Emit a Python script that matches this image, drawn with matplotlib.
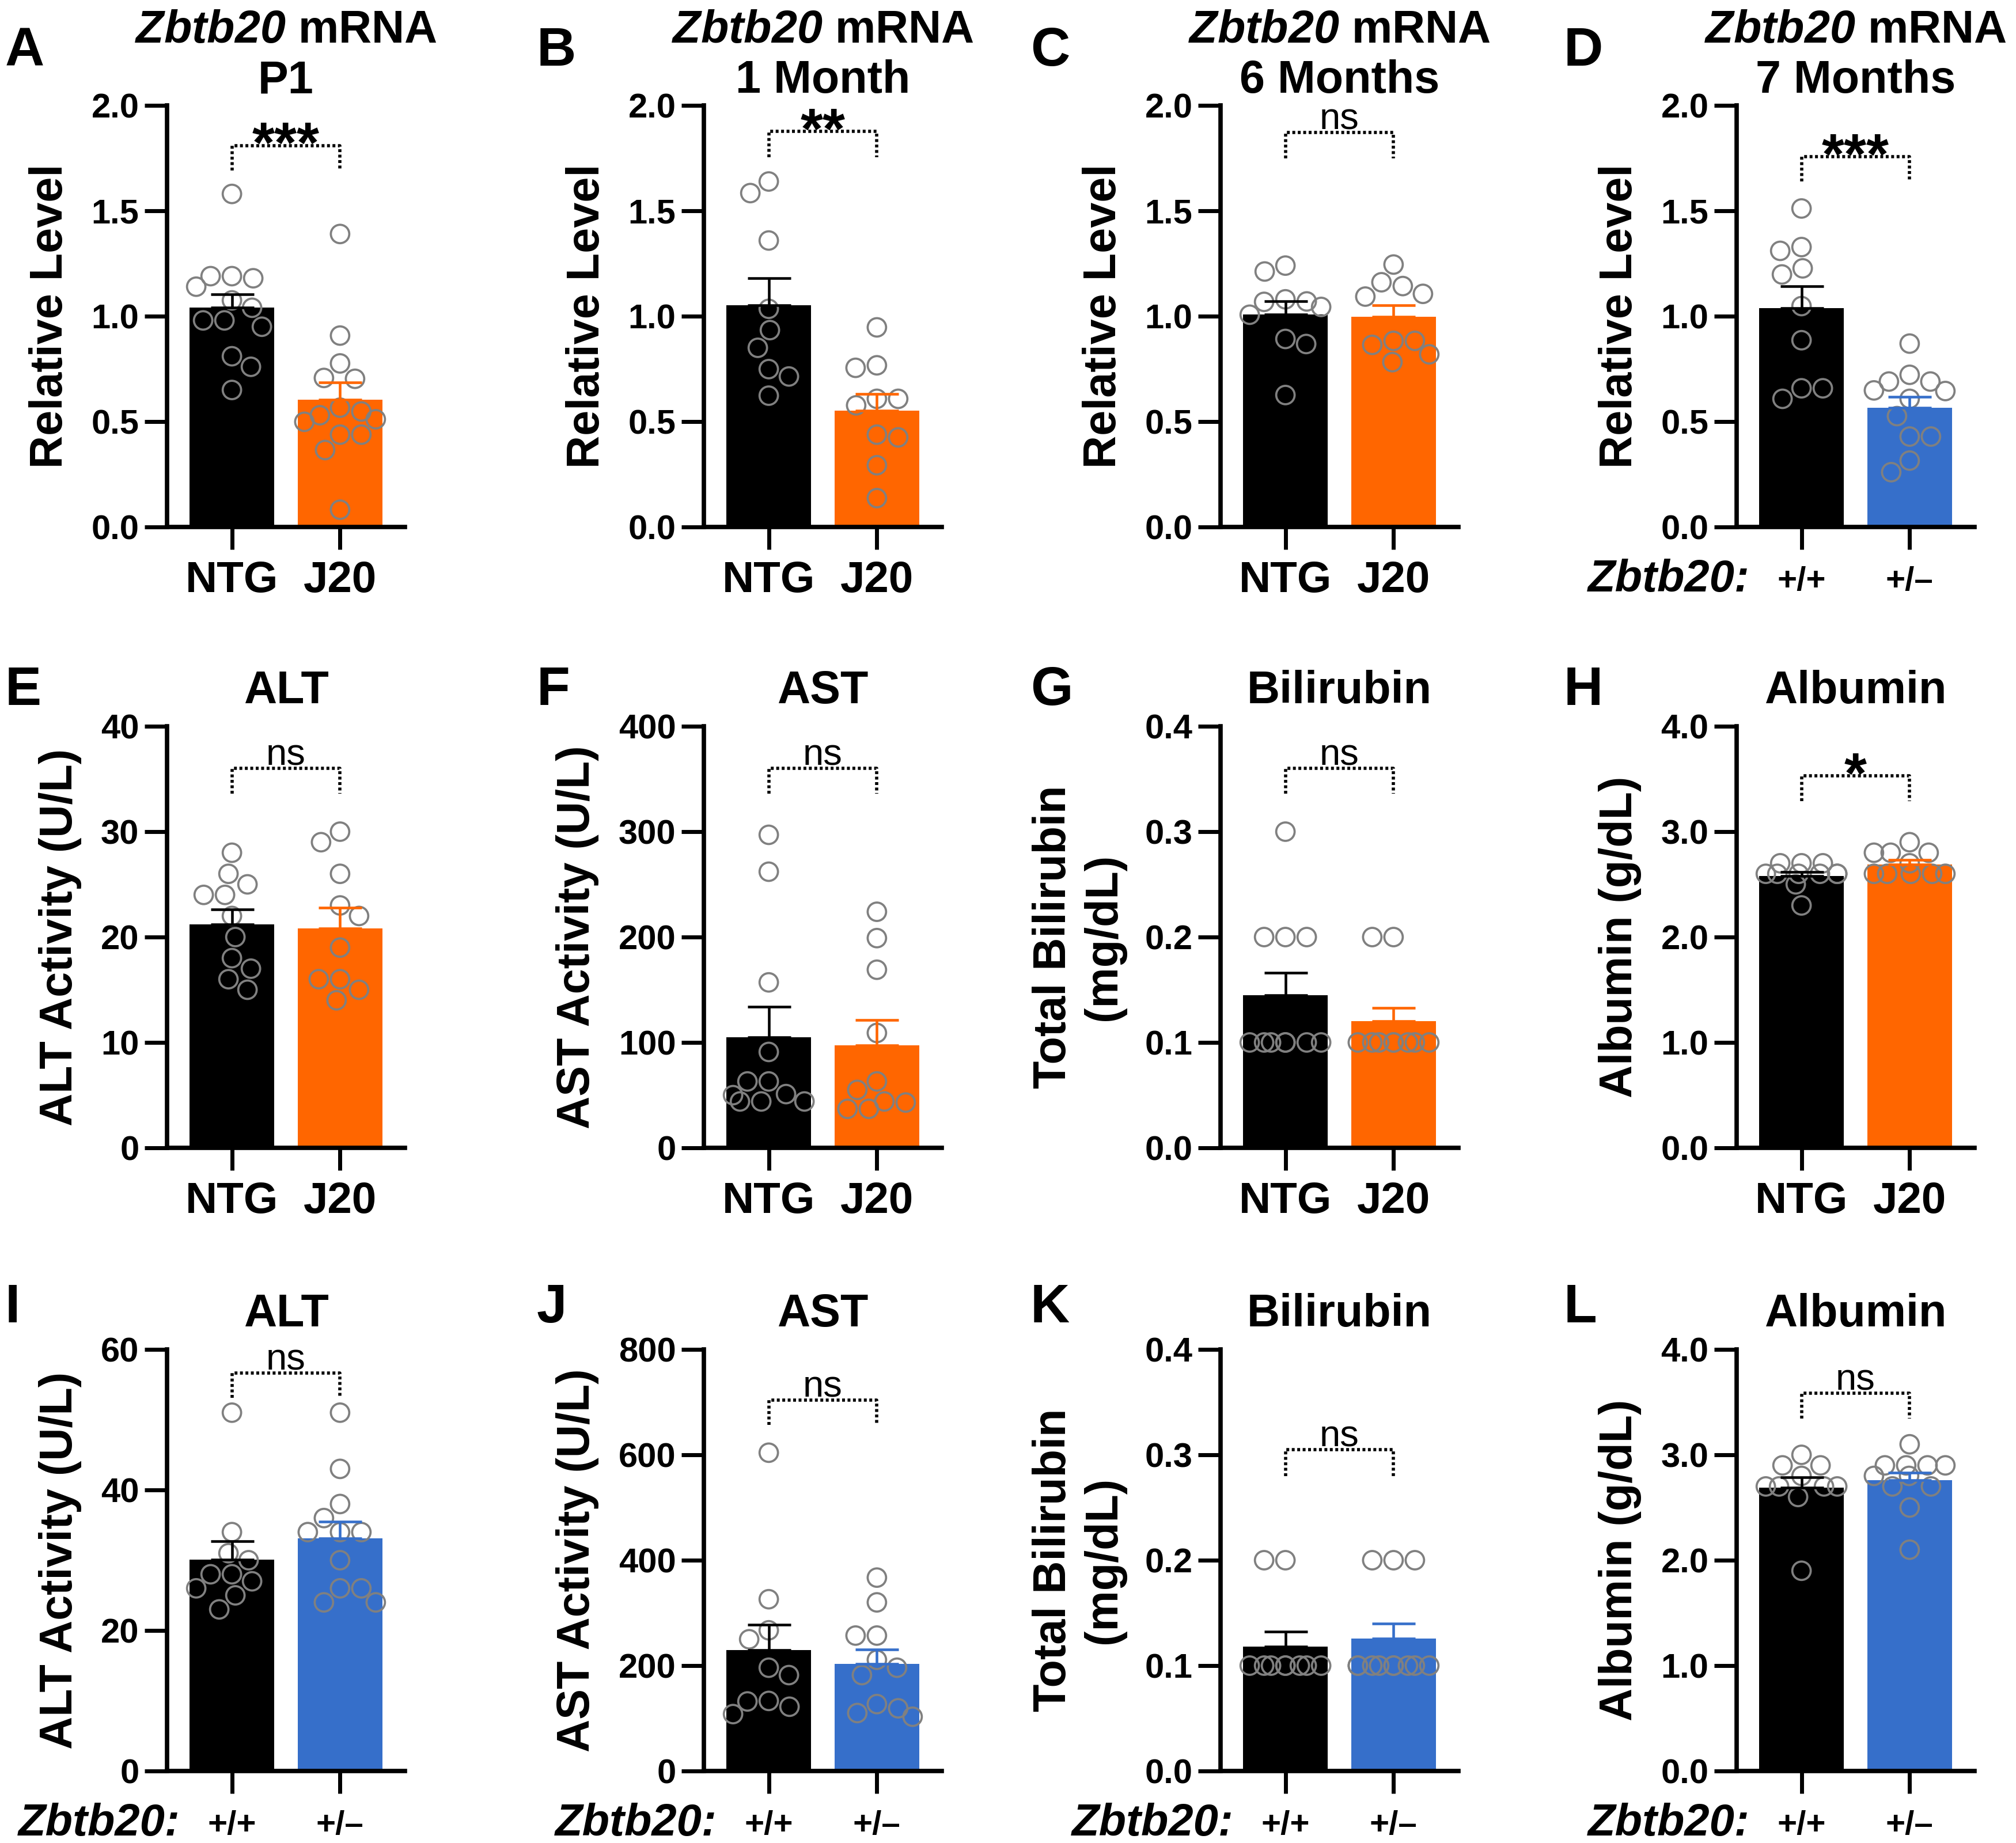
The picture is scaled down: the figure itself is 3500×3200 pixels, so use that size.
import numpy as np
import matplotlib
matplotlib.use('Agg')
import matplotlib.pyplot as plt

plt.rcParams['font.family'] = 'Liberation Sans'
plt.rcParams['font.weight'] = 'bold'
plt.rcParams['axes.labelweight'] = 'bold'
plt.rcParams['mathtext.fontset'] = 'custom'
plt.rcParams['mathtext.it'] = 'Liberation Sans:italic:bold'
plt.rcParams['mathtext.rm'] = 'Liberation Sans:italic:bold'
plt.rcParams['mathtext.bf'] = 'Liberation Sans:bold'

BLACK = '#000000'
ORANGE = '#FF6600'
BLUE = '#366FCA'
DOT = '#808080'

# ---- data ----
# A: Zbtb20 mRNA, P1
a_ntg = [1.58, 1.19, 1.19, 1.18, 1.14, 1.075, 1.04, 0.98, 0.98, 0.95, 0.81, 0.76, 0.65]
a_j20 = [1.39, 0.908, 0.776, 0.707, 0.703, 0.566, 0.548, 0.53, 0.511, 0.499, 0.438, 0.438, 0.365, 0.082]
a_bar = [1.04, 0.603]
a_sem = [0.065, 0.082]
a_sig = (1.81, 1.69, '***')

# B: 1 month
b_ntg = [1.639, 1.584, 1.359, 1.035, 0.934, 0.85, 0.749, 0.714, 0.623]
b_j20 = [0.947, 0.767, 0.755, 0.608, 0.608, 0.577, 0.425, 0.438, 0.293, 0.137]
b_bar = [1.051, 0.553]
b_sem = [0.128, 0.077]
b_sig = (1.877, 1.755, '**')

# C: 6 months
c_ntg = [1.24, 1.212, 1.08, 1.07, 1.068, 1.044, 1.007, 0.892, 0.868, 0.626]
c_j20 = [1.245, 1.161, 1.143, 1.106, 1.093, 0.883, 0.883, 0.864, 0.819, 0.782]
c_bar = [1.007, 0.996]
c_sem = [0.064, 0.055]
c_sig = (1.872, 1.749, 'ns')

# D: 7 months, Zbtb20 +/+ vs +/-
d_wt = [1.511, 1.328, 1.31, 1.227, 1.198, 1.048, 0.886, 0.658, 0.658, 0.608]
d_het = [0.87, 0.722, 0.69, 0.69, 0.648, 0.645, 0.608, 0.526, 0.429, 0.429, 0.315, 0.26]
d_bar = [1.038, 0.566]
d_sem = [0.105, 0.051]
d_sig = (1.756, 1.64, '***')

# E: ALT (J20)
e_ntg = [28, 26, 25, 24, 24, 22, 20, 18, 17, 16, 15]
e_j20 = [30, 29, 26, 23, 22, 19, 16, 16, 15, 14]
e_bar = [21.2, 20.8]
e_sem = [1.45, 2.0]
e_sig = (36.0, 33.6, 'ns')

# F: AST (J20)
f_ntg = [297, 262, 157, 91, 63, 63, 51, 50, 44, 44, 44]
f_j20 = [224, 199, 169, 109, 63, 55, 44, 43, 37, 37]
f_bar = [105, 97]
f_sem = [29, 24.5]
f_sig = (360, 336, 'ns')

# G: bilirubin (J20)
g_ntg = [0.3, 0.2, 0.2, 0.2, 0.1, 0.1, 0.1, 0.1, 0.1, 0.1, 0.1]
g_j20 = [0.2, 0.2, 0.1, 0.1, 0.1, 0.1, 0.1, 0.1, 0.1, 0.1]
g_bar = [0.145, 0.12]
g_sem = [0.021, 0.013]
g_sig = (0.36, 0.336, 'ns')

# H: albumin (J20)
h_ntg = [2.7, 2.7, 2.7, 2.6, 2.6, 2.6, 2.6, 2.6, 2.6, 2.5, 2.3]
h_j20 = [2.9, 2.8, 2.8, 2.8, 2.7, 2.6, 2.6, 2.6, 2.6, 2.6]
h_bar = [2.58, 2.69]
h_sem = [0.035, 0.04]
h_sig = (3.53, 3.29, '*')

# I: ALT (Zbtb20)
i_wt = [51, 34, 31, 30, 28, 28, 27, 26, 25, 23]
i_het = [51, 43, 38, 36, 34, 34, 34, 30, 26, 26, 24, 24]
i_bar = [30.1, 33.1]
i_sem = [2.6, 2.4]
i_sig = (56.6, 53.1, 'ns')

# J: AST (Zbtb20)
j_wt = [604, 326, 267, 250, 196, 182, 133, 132, 122, 108]
j_het = [367, 320, 257, 257, 211, 196, 182, 127, 119, 110, 103]
j_bar = [229, 203]
j_sem = [49, 27.6]
j_sig = (704, 657, 'ns')

# K: bilirubin (Zbtb20)
k_wt = [0.2, 0.2, 0.1, 0.1, 0.1, 0.1, 0.1, 0.1, 0.1, 0.1]
k_het = [0.2, 0.2, 0.2, 0.1, 0.1, 0.1, 0.1, 0.1, 0.1, 0.1, 0.1, 0.1]
k_bar = [0.118, 0.1255]
k_sem = [0.014, 0.0145]
k_sig = (0.305, 0.28, 'ns')

# L: albumin (Zbtb20)
l_wt = [3.0, 2.9, 2.9, 2.8, 2.7, 2.7, 2.7, 2.7, 2.6, 1.9]
l_het = [3.1, 2.9, 2.9, 2.9, 2.9, 2.8, 2.8, 2.7, 2.7, 2.5, 2.1]
l_bar = [2.69, 2.757]
l_sem = [0.095, 0.075]
l_sig = (3.585, 3.345, 'ns')

ticks_rel = [0.0, 0.5, 1.0, 1.5, 2.0]
ticks_alt_j20 = [0, 10, 20, 30, 40]
ticks_ast_j20 = [0, 100, 200, 300, 400]
ticks_bili = [0.0, 0.1, 0.2, 0.3, 0.4]
ticks_alb = [0.0, 1.0, 2.0, 3.0, 4.0]
ticks_alt_z = [0, 20, 40, 60]
ticks_ast_z = [0, 200, 400, 600, 800]

j20_labels = ['NTG', 'J20']
geno_labels = ['+/+', '+/\u2013']
zb = r'$\mathrm{Zbtb20}$ mRNA'

panels = [
    ('A', zb + '\nP1', 'Relative Level', ticks_rel, '{:.1f}', (a_ntg, a_j20), a_bar, a_sem, a_sig, ORANGE, False),
    ('B', zb + '\n1 Month', 'Relative Level', ticks_rel, '{:.1f}', (b_ntg, b_j20), b_bar, b_sem, b_sig, ORANGE, False),
    ('C', zb + '\n6 Months', 'Relative Level', ticks_rel, '{:.1f}', (c_ntg, c_j20), c_bar, c_sem, c_sig, ORANGE, False),
    ('D', zb + '\n7 Months', 'Relative Level', ticks_rel, '{:.1f}', (d_wt, d_het), d_bar, d_sem, d_sig, BLUE, True),
    ('E', 'ALT', 'ALT Activity (U/L)', ticks_alt_j20, '{:.0f}', (e_ntg, e_j20), e_bar, e_sem, e_sig, ORANGE, False),
    ('F', 'AST', 'AST Activity (U/L)', ticks_ast_j20, '{:.0f}', (f_ntg, f_j20), f_bar, f_sem, f_sig, ORANGE, False),
    ('G', 'Bilirubin', 'Total Bilirubin\n(mg/dL)', ticks_bili, '{:.1f}', (g_ntg, g_j20), g_bar, g_sem, g_sig, ORANGE, False),
    ('H', 'Albumin', 'Albumin (g/dL)', ticks_alb, '{:.1f}', (h_ntg, h_j20), h_bar, h_sem, h_sig, ORANGE, False),
    ('I', 'ALT', 'ALT Activity (U/L)', ticks_alt_z, '{:.0f}', (i_wt, i_het), i_bar, i_sem, i_sig, BLUE, True),
    ('J', 'AST', 'AST Activity (U/L)', ticks_ast_z, '{:.0f}', (j_wt, j_het), j_bar, j_sem, j_sig, BLUE, True),
    ('K', 'Bilirubin', 'Total Bilirubin\n(mg/dL)', ticks_bili, '{:.1f}', (k_wt, k_het), k_bar, k_sem, k_sig, BLUE, True),
    ('L', 'Albumin', 'Albumin (g/dL)', ticks_alb, '{:.1f}', (l_wt, l_het), l_bar, l_sem, l_sig, BLUE, True),
]

# ---- layout (figure pixels) ----
W, H = 3500, 3200
COL_LEFT = [290, 1222, 2119, 3015]
ROW_TOP = [183, 1261, 2343]
LETTER_X = [9, 932, 1789, 2715]
LETTER_Y = [114, 1224, 2296]
AX_W, AX_H = 413, 732
XLIM = (-0.6, 1.6)
BAR_W = 0.78
SPACING = 37.0   # min centre distance of dots, px
LIMIT = 62.0     # max sideways shift of dots, px


def swarm(values, ymax):
    """greedy beeswarm in pixel space, returns x offsets in data units"""
    ypx = np.asarray(values, float) * AX_H / ymax
    order = np.argsort(-ypx, kind='stable')
    cand = np.arange(-LIMIT, LIMIT + 0.5, 1.0)
    px = np.zeros(len(ypx))
    placed = []
    for i in order:
        pen = np.zeros_like(cand)
        for j in placed:
            dist = np.hypot(cand - px[j], ypx[i] - ypx[j])
            pen += np.clip(SPACING - dist, 0, None)
        side = np.sign(cand) * np.sign(px[placed].sum()) if placed else 0
        score = pen * 100 + np.abs(cand) + 0.5 * side
        k = int(np.argmin(score))
        px[i] = cand[k]
        placed.append(i)
    return px / (AX_W / (XLIM[1] - XLIM[0]))


def draw_panel(ax, p):
    letter, title, ylabel, ticks, fmt, groups, bars, sems, sig, color2, geno = p
    ymax = ticks[-1]
    colors = (BLACK, color2)
    for i, (vals, mean, sem, c) in enumerate(zip(groups, bars, sems, colors)):
        ax.bar(i, mean, width=BAR_W, color=c, zorder=1)
        ax.scatter(i + swarm(vals, ymax), vals, s=23 ** 2, facecolors='none',
                   edgecolors=DOT, linewidths=2.7, zorder=3, clip_on=False)
        ax.errorbar(i, mean, yerr=[[0], [sem]], fmt='none', ecolor=c,
                    elinewidth=3.3, capsize=27, capthick=3.3, zorder=4)

    top, leg, label = sig
    ax.plot([0, 0, 1, 1], [leg, top, top, leg], color='black', lw=4,
            linestyle=(0, (0.9, 0.8)), zorder=5, clip_on=False)
    if label == 'ns':
        ax.annotate(label, xy=(0.5, top), xytext=(0, 4), textcoords='offset points',
                    ha='center', va='baseline', fontsize=47, fontweight='normal')
    else:
        ax.annotate(label, xy=(0.5, top), xytext=(0, -21), textcoords='offset points',
                    ha='center', va='baseline', fontsize=72)

    ax.set_xlim(*XLIM)
    ax.set_ylim(0, ymax)
    ax.set_yticks(ticks)
    ax.set_yticklabels([fmt.format(t) for t in ticks])
    ax.set_xticks([0, 1])
    for s in ('top', 'right'):
        ax.spines[s].set_visible(False)
    for s in ('left', 'bottom'):
        ax.spines[s].set_linewidth(5.5)
    ax.tick_params(axis='both', length=28, width=5, direction='out')
    ax.tick_params(axis='y', labelsize=43, pad=7)
    ax.set_ylabel(ylabel, fontsize=57, fontweight='bold', labelpad=24)

    if geno:
        ax.set_xticklabels(geno_labels)
        ax.tick_params(axis='x', labelsize=42, pad=21)
        ax.text(0.055, -112 / AX_H, 'Zbtb20:', transform=ax.transAxes, ha='right',
                va='baseline', fontsize=56, fontstyle='italic')
    else:
        ax.set_xticklabels(j20_labels)
        ax.tick_params(axis='x', labelsize=55, pad=14)

    # baseline of the last title line sits just above the axes
    off = 22 if '\n' in title else 40
    ax.text(0.5, 1 + off / AX_H, title, transform=ax.transAxes, ha='center',
            va='baseline', fontsize=57)


fig = plt.figure(figsize=(W / 100, H / 100), dpi=100)
for n, p in enumerate(panels):
    r, c = divmod(n, 4)
    left = COL_LEFT[c] / W
    bottom = 1 - (ROW_TOP[r] + AX_H) / H
    ax = fig.add_axes([left, bottom, AX_W / W, AX_H / H])
    draw_panel(ax, p)
    fig.text(LETTER_X[c] / W, 1 - LETTER_Y[r] / H, p[0], fontsize=68,
             ha='left', va='baseline')

fig.savefig('out.png', dpi=100, facecolor='white')
